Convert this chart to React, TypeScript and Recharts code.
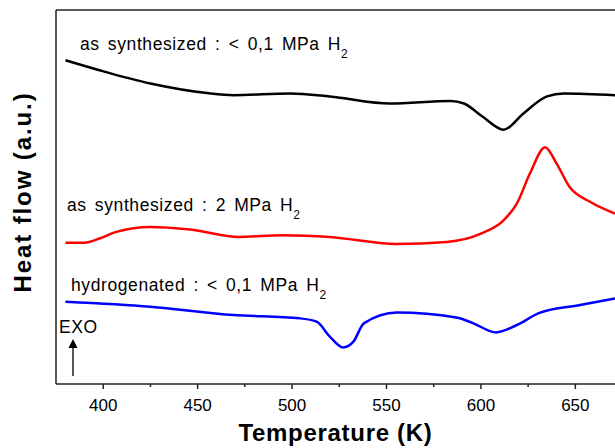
import React from 'react';
import { LineChart, Line, XAxis, YAxis } from 'recharts';

// Temperatures (K) and heat-flow values (a.u.)
const blackT = [380, 398, 425, 455, 469, 499, 520, 552, 584, 591, 601, 612, 622.5, 635, 644, 671];
const blackV = [7.79, 7.55, 7.23, 7.0, 6.95, 6.99, 6.92, 6.75, 6.81, 6.75, 6.43, 6.12, 6.51, 6.92, 6.99, 6.95];

const redT = [380, 390, 398, 407, 425, 446, 472, 495, 520, 555, 582, 600, 612, 619, 626, 634, 640, 647, 658, 671];
const redV = [3.4, 3.4, 3.5, 3.66, 3.78, 3.72, 3.54, 3.58, 3.54, 3.37, 3.42, 3.62, 3.94, 4.34, 5.07, 5.7, 5.31, 4.74, 4.38, 4.1];

const blueT = [380, 425, 469, 504, 513, 520, 527, 532.5, 538, 555.5, 587, 596, 608, 619, 631, 652.5, 671];
const blueV = [1.98, 1.86, 1.66, 1.58, 1.5, 1.14, 0.88, 1.02, 1.46, 1.72, 1.6, 1.46, 1.24, 1.42, 1.71, 1.9, 2.06];

const majorTicks = [400, 450, 500, 550, 600, 650];
const allTicks = [400, 425, 450, 475, 500, 525, 550, 575, 600, 625, 650];
const yTicks = [0, 1, 2, 3, 4, 5, 6, 7, 8, 9];
const xDomain: [number, number] = [375, 671];

const labelTop = 'as synthesized : < 0,1 MPa H';
const labelMid = 'as synthesized : 2 MPa H';
const labelBot = 'hydrogenated : < 0,1 MPa H';
const subText = '2';
const exoText = 'EXO';
const xTitle = 'Temperature (K)';
const yTitle = 'Heat flow (a.u.)';

const FONT = "'Liberation Sans', Arial, Helvetica, sans-serif";
const W = 615;
const H = 448;
const TICK_SIZE = 5;
const TICK_MARGIN = 10;
const AXIS_COLOR = '#222';

const toData = (ts: number[], vs: number[]) => ts.map((t, i) => ({ t, v: vs[i] }));

function BottomTick(props: any) {
  const { x, y, payload } = props;
  const axisY = y - TICK_SIZE - TICK_MARGIN;
  const isMajor = majorTicks.includes(payload.value);
  return (
    <g>
      <line x1={x} x2={x} y1={axisY} y2={axisY + (isMajor ? 5 : 3)} stroke={AXIS_COLOR} strokeWidth={1.5} />
      {isMajor && (
        <text x={x} y={y} dy="0.71em" textAnchor="middle" fontSize={17} fill="#000" fontFamily={FONT}>
          {payload.value}
        </text>
      )}
    </g>
  );
}

export default function App() {
  const blackData = toData(blackT, blackV);
  const redData = toData(redT, redV);
  const blueData = toData(blueT, blueV);
  const annStyle = { fontFamily: FONT, fontSize: 17.5, letterSpacing: 0.6, wordSpacing: 2.7, fill: '#000' };
  return (
    <div style={{ position: 'absolute', left: 0, top: 0, width: W, height: H, overflow: 'hidden', background: '#fff' }}>
      <LineChart width={W} height={H} margin={{ top: 10, right: 0, bottom: 34, left: 56 }}>
        <XAxis
          xAxisId="top"
          orientation="top"
          type="number"
          domain={xDomain}
          ticks={allTicks}
          tick={false}
          mirror
          tickSize={3}
          height={10}
          allowDataOverflow
          stroke={AXIS_COLOR}
          strokeWidth={1.5}
        />
        <XAxis
          xAxisId="main"
          dataKey="t"
          type="number"
          domain={xDomain}
          ticks={allTicks}
          tickSize={TICK_SIZE}
          tickMargin={TICK_MARGIN}
          tickLine={false}
          height={30}
          allowDataOverflow
          interval={0}
          stroke={AXIS_COLOR}
          strokeWidth={1.5}
          tick={<BottomTick />}
        />
        <YAxis
          type="number"
          domain={[0, 9]}
          ticks={yTicks}
          tick={false}
          mirror
          tickSize={3}
          width={56}
          allowDataOverflow
          stroke={AXIS_COLOR}
          strokeWidth={1.5}
        />
        <Line xAxisId="main" data={blackData} dataKey="v" type="monotone" stroke="#000000" strokeWidth={2.5} dot={false} isAnimationActive={false} />
        <Line xAxisId="main" data={redData} dataKey="v" type="monotone" stroke="#ff0000" strokeWidth={2.5} dot={false} isAnimationActive={false} />
        <Line xAxisId="main" data={blueData} dataKey="v" type="monotone" stroke="#0000ff" strokeWidth={2.5} dot={false} isAnimationActive={false} />
      </LineChart>
      <svg style={{ position: 'absolute', left: 0, top: 0, pointerEvents: 'none' }} width={W} height={H}>
        <text x={80} y={50} style={annStyle}>
          {labelTop}
          <tspan fontSize={12} dy={8}>{subText}</tspan>
        </text>
        <text x={67} y={210.5} style={annStyle}>
          {labelMid}
          <tspan fontSize={12} dy={8}>{subText}</tspan>
        </text>
        <text x={71} y={291} style={annStyle}>
          {labelBot}
          <tspan fontSize={12} dy={8}>{subText}</tspan>
        </text>
        <text x={59} y={333} style={annStyle}>{exoText}</text>
        <line x1={73} y1={376} x2={73} y2={346} stroke="#000" strokeWidth={1.3} />
        <polygon points="68.5,348 73,339 77.5,348" fill="#000" />
        <text
          x={335.5}
          y={441}
          textAnchor="middle"
          style={{ fontFamily: FONT, fontSize: 24, fontWeight: 'bold', letterSpacing: 0.7, fill: '#000' }}
        >
          {xTitle}
        </text>
        <text
          x={31}
          y={192}
          textAnchor="middle"
          transform="rotate(-90, 31, 192)"
          style={{ fontFamily: FONT, fontSize: 24, fontWeight: 'bold', letterSpacing: 1.9, fill: '#000' }}
        >
          {yTitle}
        </text>
      </svg>
    </div>
  );
}
